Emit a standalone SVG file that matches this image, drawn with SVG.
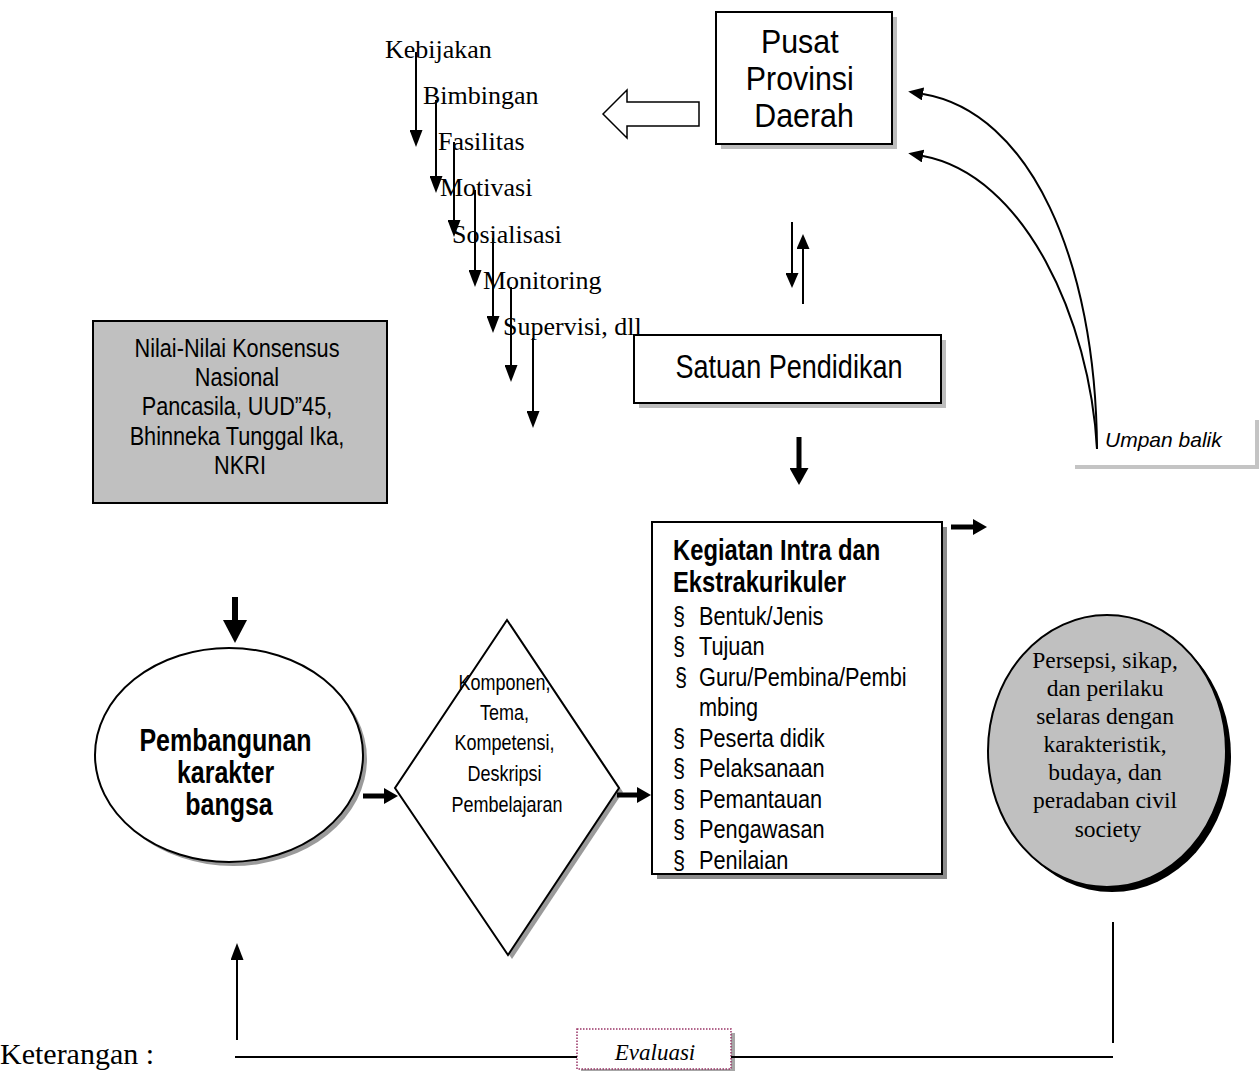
<svg xmlns="http://www.w3.org/2000/svg" width="1259" height="1072" viewBox="0 0 1259 1072">
  <style>
    .box { fill: #ffffff; stroke: #000000; stroke-width: 2; }
    .gray { fill: #c0c0c0; stroke: #000000; stroke-width: 2; }
    .shadow { fill: #bdbdbd; stroke: none; }
    .narrow { font-family: "Liberation Sans", Arial, sans-serif; fill: #000; }
    .serif { font-family: "Liberation Serif", "Times New Roman", serif; fill: #000; }
    .sans { font-family: "Liberation Sans", Arial, sans-serif; fill: #000; }
    .thin { stroke: #000; stroke-width: 2; fill: none; }
    .thick { stroke: #000; stroke-width: 5; fill: none; }
  </style>
  <defs>
    <marker id="headThin" markerUnits="userSpaceOnUse" markerWidth="17" markerHeight="13" refX="0" refY="6.5" orient="auto">
      <path d="M0,0 L17,6.5 L0,13 Z" fill="#000"/>
    </marker>
    <marker id="headMid" markerUnits="userSpaceOnUse" markerWidth="15" markerHeight="13" refX="0" refY="6.5" orient="auto">
      <path d="M0,0 L15,6.5 L0,13 Z" fill="#000"/>
    </marker>
    <marker id="headBold" markerUnits="userSpaceOnUse" markerWidth="14" markerHeight="16" refX="0" refY="8" orient="auto">
      <path d="M0,0 L14,8 L0,16 Z" fill="#000"/>
    </marker>
    <marker id="headDown" markerUnits="userSpaceOnUse" markerWidth="17" markerHeight="19" refX="0" refY="9.5" orient="auto">
      <path d="M0,0 L17,9.5 L0,19 Z" fill="#000"/>
    </marker>
    <marker id="headBig" markerUnits="userSpaceOnUse" markerWidth="23" markerHeight="24" refX="0" refY="12" orient="auto">
      <path d="M0,0 L23,12 L0,24 Z" fill="#000"/>
    </marker>
  </defs>

  <!-- Pusat / Provinsi / Daerah (condensed sans via horizontal scale) -->
  <g id="pusat">
    <rect class="shadow" x="721" y="17" width="176" height="132"/>
    <rect class="box" x="716" y="12" width="176" height="132"/>
    <text class="narrow" font-size="33" text-anchor="middle" transform="translate(804,0) scale(0.92,1)">
      <tspan x="0" y="53">Pusat</tspan>
      <tspan x="0" y="90">Provinsi</tspan>
      <tspan x="0" y="127">Daerah</tspan>
    </text>
  </g>

  <!-- hollow block arrow pointing left -->
  <g id="block-arrow">
    <path d="M603,114 L627,90 L627,102 L699,102 L699,126 L627,126 L627,138 Z" fill="#fff" stroke="#000" stroke-width="1.5"/>
  </g>

  <!-- staircase list of activities -->
  <g id="kegiatan-pusat" class="serif" font-size="26">
    <text x="385" y="58">Kebijakan</text>
    <text x="423" y="104">Bimbingan</text>
    <text x="438" y="150">Fasilitas</text>
    <text x="440" y="196">Motivasi</text>
    <text x="452" y="243">Sosialisasi</text>
    <text x="483" y="289">Monitoring</text>
    <text x="503" y="335">Supervisi, dll</text>
  </g>

  <!-- Satuan Pendidikan -->
  <g id="satuan">
    <rect class="shadow" x="639" y="340" width="307" height="68"/>
    <rect class="box" x="634" y="335" width="307" height="68"/>
    <text class="narrow" x="0" y="378" font-size="33" text-anchor="middle" transform="translate(789,0) scale(0.82,1)">Satuan Pendidikan</text>
  </g>

  <!-- Nilai-nilai konsensus nasional -->
  <g id="nilai">
    <rect class="gray" x="93" y="321" width="294" height="182"/>
    <text class="narrow" font-size="26" text-anchor="middle" transform="translate(240,0) scale(0.835,1)">
      <tspan x="0" y="357">Nilai-Nilai Konsensus</tspan>
      <tspan x="0" y="386">Nasional</tspan>
      <tspan x="0" y="415">Pancasila, UUD”45,</tspan>
      <tspan x="0" y="445">Bhinneka Tunggal Ika,</tspan>
      <tspan x="0" y="474">NKRI</tspan>
    </text>
  </g>

  <!-- Umpan balik label -->
  <g id="umpan-balik">
    <path d="M1075,467 L1257,467 L1257,420" fill="none" stroke="#c4c4c4" stroke-width="4"/>
    <text class="sans" x="1105" y="447" font-size="21" font-style="italic">Umpan balik</text>
  </g>

  <!-- Pembangunan karakter bangsa -->
  <g id="pembangunan">
    <ellipse cx="233" cy="759" rx="134" ry="107" fill="#9a9a9a"/>
    <ellipse class="box" cx="229" cy="755" rx="134" ry="107"/>
    <text class="narrow" font-size="30.5" font-weight="bold" text-anchor="middle" transform="translate(229,0) scale(0.82,1)">
      <tspan x="0" y="751">Pembangunan</tspan>
      <tspan x="0" y="783">karakter</tspan>
      <tspan x="0" y="815">bangsa</tspan>
    </text>
  </g>

  <!-- Komponen diamond -->
  <g id="komponen">
    <path d="M511,624 L623,792 L512,959 L399,792 Z" fill="#9a9a9a"/>
    <path class="box" d="M507,620 L619,788 L508,955 L395,788 Z"/>
    <text class="narrow" font-size="22.5" text-anchor="middle" transform="translate(507,0) scale(0.8,1)">
      <tspan x="0" y="690">Komponen,</tspan>
      <tspan x="0" y="720">Tema,</tspan>
      <tspan x="0" y="750">Kompetensi,</tspan>
      <tspan x="0" y="781">Deskripsi</tspan>
      <tspan x="0" y="812">Pembelajaran</tspan>
    </text>
  </g>

  <!-- Kegiatan intra dan ekstrakurikuler -->
  <g id="kegiatan">
    <rect x="657" y="527" width="290" height="352" fill="#8c8c8c"/>
    <rect class="box" x="652" y="522" width="290" height="352"/>
    <text class="narrow" font-size="29" font-weight="bold" transform="translate(673,0) scale(0.82,1)">
      <tspan x="0" y="560">Kegiatan Intra dan</tspan>
      <tspan x="0" y="592">Ekstrakurikuler</tspan>
    </text>
    <text class="narrow" font-size="26.5" transform="translate(673,0) scale(0.82,1)">
      <tspan x="0" y="625">§</tspan><tspan x="31.7" y="625">Bentuk/Jenis</tspan>
      <tspan x="0" y="655">§</tspan><tspan x="31.7" y="655">Tujuan</tspan>
      <tspan x="2.4" y="686">§</tspan><tspan x="31.7" y="686">Guru/Pembina/Pembi</tspan>
      <tspan x="31.7" y="716">mbing</tspan>
      <tspan x="0" y="747">§</tspan><tspan x="31.7" y="747">Peserta didik</tspan>
      <tspan x="0" y="777">§</tspan><tspan x="31.7" y="777">Pelaksanaan</tspan>
      <tspan x="0" y="808">§</tspan><tspan x="31.7" y="808">Pemantauan</tspan>
      <tspan x="0" y="838">§</tspan><tspan x="31.7" y="838">Pengawasan</tspan>
      <tspan x="0" y="869">§</tspan><tspan x="31.7" y="869">Penilaian</tspan>
    </text>
  </g>

  <!-- Persepsi, sikap dan perilaku -->
  <g id="persepsi">
    <ellipse cx="1112" cy="756" rx="119" ry="136" fill="#000"/>
    <ellipse class="gray" cx="1107" cy="751" rx="119" ry="136"/>
    <text class="serif" font-size="23.5" text-anchor="middle">
      <tspan x="1108" y="668">Persepsi, sikap,</tspan>
      <tspan x="1108" y="696">dan perilaku</tspan>
      <tspan x="1108" y="724">selaras dengan</tspan>
      <tspan x="1108" y="752">karakteristik,</tspan>
      <tspan x="1108" y="780">budaya, dan</tspan>
      <tspan x="1108" y="808">peradaban civil</tspan>
      <tspan x="1108" y="837">society</tspan>
    </text>
  </g>

  <!-- Evaluasi label -->
  <g id="evaluasi">
    <rect x="581" y="1033" width="154" height="38" fill="#a6a6a6"/>
    <rect x="577" y="1029" width="154" height="40" fill="#fff" stroke="#993366" stroke-width="1.5" stroke-dasharray="1.5 1.5"/>
    <text class="serif" x="655" y="1060" font-size="23" font-style="italic" text-anchor="middle">Evaluasi</text>
  </g>

  <text id="keterangan" class="serif" x="0" y="1064" font-size="30">Keterangan :</text>

  <!-- connectors -->
  <g id="connectors">
    <!-- staircase arrows -->
    <line class="thin" x1="416" y1="52" x2="416" y2="130" marker-end="url(#headThin)"/>
    <line class="thin" x1="436" y1="100" x2="436" y2="176" marker-end="url(#headThin)"/>
    <line class="thin" x1="454" y1="142" x2="454" y2="220" marker-end="url(#headThin)"/>
    <line class="thin" x1="475" y1="190" x2="475" y2="270" marker-end="url(#headThin)"/>
    <line class="thin" x1="493" y1="238" x2="493" y2="316" marker-end="url(#headThin)"/>
    <line class="thin" x1="511" y1="287" x2="511" y2="365" marker-end="url(#headThin)"/>
    <line class="thin" x1="533" y1="338" x2="533" y2="411" marker-end="url(#headThin)"/>

    <!-- Pusat <-> Satuan -->
    <line class="thin" x1="792" y1="222" x2="792" y2="273" marker-end="url(#headMid)"/>
    <line class="thin" x1="803" y1="304" x2="803" y2="249" marker-end="url(#headMid)"/>

    <!-- Satuan -> Kegiatan -->
    <line class="thick" x1="799" y1="437" x2="799" y2="468" marker-end="url(#headDown)"/>

    <!-- Nilai -> Pembangunan -->
    <line x1="235" y1="597" x2="235" y2="620" stroke="#000" stroke-width="6" marker-end="url(#headBig)"/>

    <!-- Pembangunan -> Komponen -> Kegiatan -> out -->
    <line class="thick" x1="363" y1="796" x2="384" y2="796" marker-end="url(#headBold)"/>
    <line class="thick" x1="617" y1="795" x2="637" y2="795" marker-end="url(#headBold)"/>
    <line class="thick" x1="951" y1="527" x2="973" y2="527" marker-end="url(#headBold)"/>

    <!-- Umpan balik curves -->
    <path class="thin" d="M1097,449 C1096,260 1030,112 923,94" marker-end="url(#headMid)"/>
    <path class="thin" d="M1097,449 C1090,320 1025,175 923,156" marker-end="url(#headMid)"/>

    <!-- Evaluasi loop -->
    <line class="thin" x1="1113" y1="922" x2="1113" y2="1043"/>
    <line class="thin" x1="235" y1="1057" x2="577" y2="1057"/>
    <line class="thin" x1="731" y1="1057" x2="1113" y2="1057"/>
    <line class="thin" x1="237" y1="1040" x2="237" y2="960" marker-end="url(#headThin)"/>
  </g>
</svg>
